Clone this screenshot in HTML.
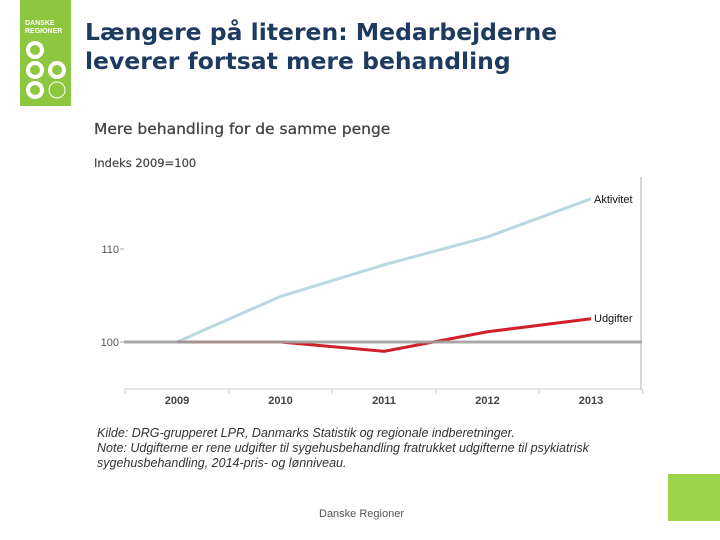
<!DOCTYPE html>
<html><head><meta charset="utf-8"><style>
body{margin:0;width:720px;height:540px;background:#fff;position:relative;overflow:hidden;font-family:"Liberation Sans",sans-serif}
.abs{position:absolute}
</style></head><body>
<div class="abs" style="left:20px;top:0;width:51px;height:106px;background:#8dc63f">
<div style="position:absolute;left:5px;top:20px;font-size:7px;line-height:8px;color:#fff;font-weight:bold">DANSKE<br>REGIONER</div>
<svg width="51" height="106" style="position:absolute;left:0;top:0">
<g fill="none" stroke="#fff" stroke-width="4"><circle cx="15" cy="50" r="7"/><circle cx="15" cy="70" r="7"/><circle cx="37" cy="70" r="7"/><circle cx="15" cy="90" r="7"/></g>
<circle cx="37" cy="90" r="8" fill="none" stroke="#fff" stroke-width="1"/>
</svg></div>
<div class="abs" style="left:85px;top:18px;font-family:'DejaVu Sans',sans-serif;font-weight:bold;font-size:23.5px;line-height:29px;color:#1f3a5f">Længere på literen: Medarbejderne<br>leverer fortsat mere behandling</div>
<div class="abs" style="left:94px;top:120px;font-family:'DejaVu Sans',sans-serif;font-size:15.5px;color:#444;-webkit-text-stroke:0.3px #444">Mere behandling for de samme penge</div>
<div class="abs" style="left:94px;top:156px;font-family:'DejaVu Sans',sans-serif;font-size:11.5px;color:#444;-webkit-text-stroke:0.2px #444">Indeks 2009=100</div>
<svg class="abs" style="left:0;top:0" width="720" height="540" id="chart"></svg>
<div class="abs" style="left:97px;top:426px;font-size:12.5px;line-height:15px;font-style:italic;color:#333">Kilde: DRG-grupperet LPR, Danmarks Statistik og regionale indberetninger.<br>Note: Udgifterne er rene udgifter til sygehusbehandling fratrukket udgifterne til psykiatrisk<br>sygehusbehandling, 2014-pris- og lønniveau.</div>
<div class="abs" style="left:319px;top:508px;font-size:11px;color:#555">Danske Regioner</div>
<div class="abs" style="left:668px;top:474px;width:52px;height:47px;background:#9ed44a"></div>
<script>
const years=["2009","2010","2011","2012","2013"];
const aktivitet=[100,104.9,108.3,111.3,115.4];
const udgifter=[100,100,99.0,101.1,102.5];
const yTicks=[100,110];
const NS="http://www.w3.org/2000/svg";
const svg=document.getElementById('chart');
const x=i=>177+i*103.5;
const y=v=>342-(v-100)*9.3;
function mk(t,a){const e=document.createElementNS(NS,t);for(const k in a)e.setAttribute(k,a[k]);svg.appendChild(e);return e;}
let e;
e=mk('line',{x1:641,y1:177,x2:641,y2:390,stroke:'#ccc','stroke-width':1.5});


e=mk('line',{x1:124,y1:389,x2:642,y2:389,stroke:'#ccc','stroke-width':1});


for(let k=0;k<=years.length;k++){e=mk('line',{x1:x(k)-51.75,y1:389,x2:x(k)-51.75,y2:394,stroke:'#ccc'});

}
years.forEach((yr,i)=>{e=mk('text',{x:x(i),y:404,'text-anchor':'middle','font-size':11,'font-weight':'bold',fill:'#444','font-family':'Liberation Sans'});e.textContent=yr;

});
yTicks.forEach(v=>{e=mk('text',{x:119,y:y(v)+4,'text-anchor':'end','font-size':11,fill:'#555','font-family':'Liberation Sans'});e.textContent=v;


e=mk('line',{x1:120,y1:y(v),x2:124,y2:y(v),stroke:'#aaa'});

});
const pts=a=>a.map((v,i)=>x(i)+','+y(v)).join(' ');
e=mk('polyline',{points:pts(aktivitet),fill:'none',stroke:'#b9d9e0','stroke-width':3});


e=mk('polyline',{points:pts(udgifter),fill:'none',stroke:'#d0202a','stroke-width':3});


e=mk('line',{x1:124,y1:y(100),x2:642,y2:y(100),stroke:'#a0a0a0','stroke-width':3,'stroke-opacity':0.9});


e=mk('text',{x:x(4)+3,y:y(aktivitet[4])+4,'font-size':11,fill:'#111','font-family':'Liberation Sans'});e.textContent='Aktivitet';


e=mk('text',{x:x(4)+3,y:y(udgifter[4])+3,'font-size':11,fill:'#111','font-family':'Liberation Sans'});e.textContent='Udgifter';


</script>
</body></html>
